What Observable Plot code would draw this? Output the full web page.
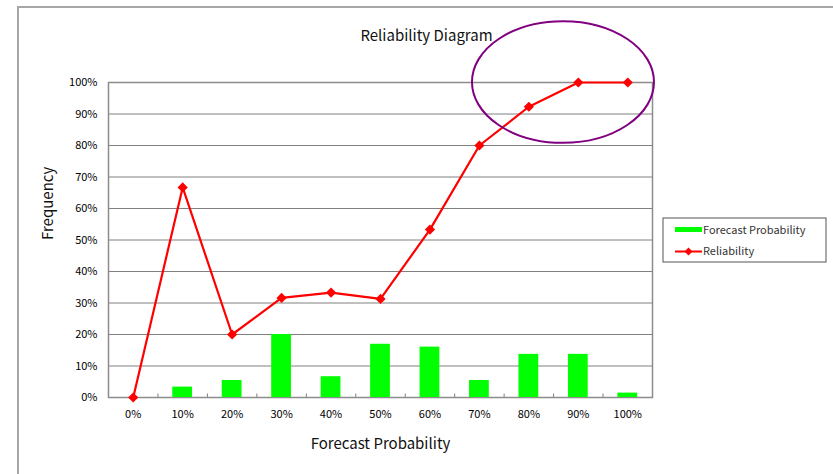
<!DOCTYPE html>
<html><head><meta charset="utf-8">
<script src="https://cdn.jsdelivr.net/npm/d3@7"></script>
<script src="https://cdn.jsdelivr.net/npm/@observablehq/plot@0.6"></script>
<style>
html,body{margin:0;padding:0;background:#fff}
#chart{position:relative;width:833px;height:474px}
</style>
</head><body><div id="chart"></div>
<script>
const categories = ["0%","10%","20%","30%","40%","50%","60%","70%","80%","90%","100%"];
const forecastProbability = [0, 3.3, 5.4, 20.0, 6.6, 16.9, 16.0, 5.4, 13.7, 13.7, 1.4];
const reliability = [0, 66.7, 20.0, 31.6, 33.3, 31.3, 53.3, 80.0, 92.3, 100, 100];
const yTicks = [0, 10, 20, 30, 40, 50, 60, 70, 80, 90, 100];
const yTickLabels = ["0%","10%","20%","30%","40%","50%","60%","70%","80%","90%","100%"];
const seriesNames = ["Forecast Probability", "Reliability"];
const titleText = "Reliability Diagram";
const xTitle = "Forecast Probability";
const yTitle = "Frequency";

const data = categories.map((c, i) => ({cat: c, freq: forecastProbability[i], rel: reliability[i]}));
const font = "'Noto Sans CJK JP', 'Noto Sans', sans-serif";
const W = 833, H = 474, mL = 108, mR = 181, mT = 82, mB = 77;
const step = (W - mL - mR) / categories.length;
const barInset = step * 0.3;

const plot = Plot.plot({
  width: W, height: H,
  marginLeft: mL, marginRight: mR, marginTop: mT, marginBottom: mB,
  style: {fontFamily: font, fontSize: "11px", color: "#000", background: "transparent"},
  x: {type: "band", domain: categories, padding: 0, round: false, label: null},
  y: {domain: [0, 100], label: null},
  marks: [
    Plot.ruleY(yTicks, {stroke: "#808080", strokeWidth: 1}),
    Plot.frame({stroke: "#8c8c8c", strokeWidth: 1.5}),
    Plot.barY(data, {x: "cat", y: "freq", fill: "#00ff00", insetLeft: barInset, insetRight: barInset}),
    Plot.ruleX(categories.slice(1), {x: d => d, y1: 0, y2: 1.1, dx: -step / 2, stroke: "#808080"}),
    Plot.line(data, {x: "cat", y: "rel", stroke: "#ff0000", strokeWidth: 2.2}),
    Plot.dot(data, {x: "cat", y: "rel", symbol: "diamond2", r: 4.6, fill: "#ff0000", stroke: "none"}),
    Plot.axisY(yTicks, {tickSize: 0, tickPadding: 11, tickFormat: d => yTickLabels[yTicks.indexOf(d)], fontSize: 11, label: null}),
    Plot.axisX({tickSize: 0, tickPadding: 13, fontSize: 11, label: null}),
    Plot.text([xTitle], {frameAnchor: "bottom", lineAnchor: "middle", dy: 47, fontSize: 15, fill: "#111"}),
    Plot.text([yTitle], {frameAnchor: "left", dx: -60, rotate: -90, fontSize: 15, fill: "#111"}),
    Plot.text([titleText], {frameAnchor: "top", lineAnchor: "middle", dy: -46, dx: 46, fontSize: 15, fill: "#111"})
  ]
});

const svg = d3.select(plot);
// outer chart-area border
svg.insert("path", ":first-child")
  .attr("d", `M18,${H} V7 H${W}`)
  .attr("fill", "none").attr("stroke", "#a6a6a6").attr("stroke-width", 2);

// legend
const lg = svg.append("g").attr("font-family", font).attr("font-size", 11).attr("text-anchor", "start");
lg.append("rect").attr("x", 663).attr("y", 218).attr("width", 163).attr("height", 44)
  .attr("fill", "#fff").attr("stroke", "#555").attr("stroke-width", 1);
lg.append("rect").attr("x", 675).attr("y", 227).attr("width", 27).attr("height", 5).attr("fill", "#00ff00");
lg.append("text").attr("x", 703).attr("y", 230).attr("dy", "0.35em").attr("text-anchor", "start").attr("fill", "#333").text(seriesNames[0]);
lg.append("line").attr("x1", 675).attr("x2", 702).attr("y1", 251.5).attr("y2", 251.5)
  .attr("stroke", "#ff0000").attr("stroke-width", 2);
lg.append("path").attr("d", d3.symbol(d3.symbolDiamond2, 40)()).attr("transform", "translate(688.5,251.5)").attr("fill", "#ff0000");
lg.append("text").attr("x", 703).attr("y", 251.5).attr("dy", "0.35em").attr("text-anchor", "start").attr("fill", "#333").text(seriesNames[1]);

// highlight ellipse around the top-right points, placed from the scales
const xs = plot.scale("x"), ys = plot.scale("y");
const cx = xs.apply("90%") + xs.bandwidth * 0.2;
const cy = ys.apply(100);
svg.append("ellipse")
  .attr("cx", cx).attr("cy", cy)
  .attr("rx", xs.bandwidth * 1.84).attr("ry", (ys.apply(0) - ys.apply(100)) * 0.193)
  .attr("fill", "none").attr("stroke", "#800080").attr("stroke-width", 2);

document.getElementById("chart").appendChild(plot);
</script>
</body></html>
